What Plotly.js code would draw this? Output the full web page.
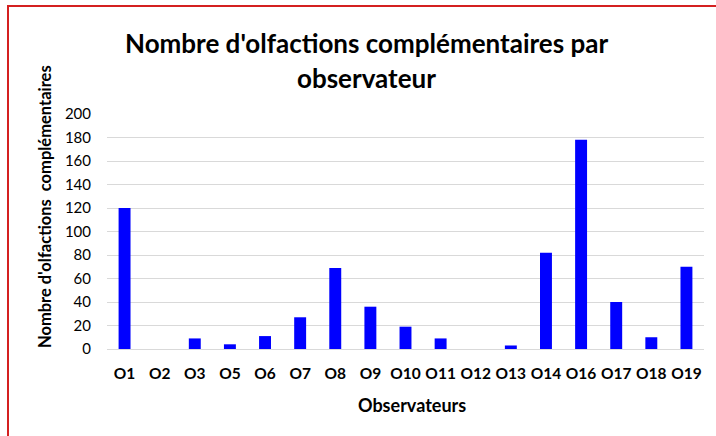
<!DOCTYPE html>
<html>
<head>
<meta charset="utf-8">
<script src="https://cdn.plot.ly/plotly-3.0.1.min.js"></script>
<style>
  html, body { margin: 0; padding: 0; background: #fff; }
  #wrap { position: relative; width: 716px; height: 436px; overflow: hidden; }
  #chart { position: absolute; left: 0; top: 0; width: 716px; height: 436px; z-index: 1; }
  #frame { position: absolute; left: 7px; top: 5px; width: 720px; height: 440px; z-index: 10;
           border-left: 2px solid #d42020; border-top: 2px solid #d42020; pointer-events: none; box-sizing: border-box; }
</style>
</head>
<body>
<div id="wrap">
  <div id="chart"></div>
  <div id="frame"></div>
</div>
<script>
const categories = ['O1','O2','O3','O5','O6','O7','O8','O9','O10','O11','O12','O13','O14','O16','O17','O18','O19'];
const values = [120, 0, 9, 4, 11, 27, 69, 36, 19, 9, 0, 3, 82, 178, 40, 10, 70];
const yTickValues = [0, 20, 40, 60, 80, 100, 120, 140, 160, 180, 200];
const titleLine1 = "Nombre d'olfactions complémentaires par";
const titleLine2 = "observateur";
const xTitle = "Observateurs";
const yTitle = "Nombre d'olfactions&nbsp; complémentaires";

const FONT = 'Lato, "Open Sans", sans-serif';

const trace = {
  type: 'bar',
  x: categories,
  y: values,
  marker: { color: '#0000ff' },
  hoverinfo: 'x+y'
};

const layout = {
  width: 716,
  height: 436,
  margin: { l: 107, r: 12, t: 114, b: 87 },
  paper_bgcolor: 'rgba(0,0,0,0)',
  plot_bgcolor: '#ffffff',
  showlegend: false,
  bargap: 0.66,
  font: { family: FONT, color: '#000' },
  xaxis: {
    type: 'category',
    tickfont: { family: FONT, size: 15.5, color: '#000', weight: 'bold' },
    ticks: 'outside', ticklen: 10, tickcolor: 'rgba(0,0,0,0)',
    showline: false, showgrid: false, zeroline: false,
    title: { text: '' }
  },
  yaxis: {
    range: [0, 200],
    tickvals: yTickValues,
    tickfont: { family: FONT, size: 15, color: '#000' },
    ticks: 'outside', ticklen: 12, tickcolor: 'rgba(0,0,0,0)',
    showgrid: true, gridcolor: '#d9d9d9', gridwidth: 1,
    zeroline: true, zerolinecolor: '#d9d9d9', zerolinewidth: 1,
    showline: false,
    title: { text: '' }
  },
  annotations: [
    { text: '<b>' + titleLine1 + '</b>', xref: 'paper', yref: 'paper',
      x: (366 - 107) / 597, y: (349 - 43) / 235, xanchor: 'center', yanchor: 'middle',
      showarrow: false, font: { family: FONT, size: 26, color: '#000' } },
    { text: '<b>' + titleLine2 + '</b>', xref: 'paper', yref: 'paper',
      x: (366 - 107) / 597, y: (349 - 78) / 235, xanchor: 'center', yanchor: 'middle',
      showarrow: false, font: { family: FONT, size: 26, color: '#000' } },
    { text: '<b>' + xTitle + '</b>', xref: 'paper', yref: 'paper',
      x: (412 - 107) / 597, y: (349 - 405) / 235, xanchor: 'center', yanchor: 'middle',
      showarrow: false, font: { family: FONT, size: 18, color: '#000' } },
    { text: '<b>' + yTitle + '</b>', xref: 'paper', yref: 'paper',
      x: (45 - 107) / 597, y: (349 - 207) / 235, xanchor: 'center', yanchor: 'middle',
      textangle: -90, showarrow: false, font: { family: FONT, size: 16.5, color: '#000' } }
  ]
};

Plotly.newPlot('chart', [trace], layout, { displayModeBar: false, staticPlot: true });
</script>
</body>
</html>
